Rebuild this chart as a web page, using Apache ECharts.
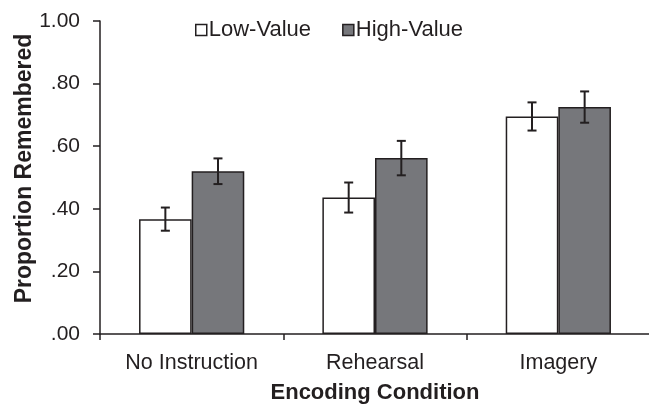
<!DOCTYPE html>
<html>
<head>
<meta charset="utf-8">
<script src="https://cdn.jsdelivr.net/npm/echarts@6/dist/echarts.min.js"></script>
<style>
html,body{margin:0;padding:0;background:#fff;}
#chart{width:649px;height:406px;}
</style>
</head>
<body>
<div id="chart"></div>
<script>
var categories = ['No Instruction', 'Rehearsal', 'Imagery'];
var lowValue = [0.367, 0.436, 0.695];
var lowErr = [0.037, 0.048, 0.045];
var highValue = [0.520, 0.562, 0.725];
var highErr = [0.041, 0.055, 0.050];
var yTicks = [0, 0.2, 0.4, 0.6, 0.8, 1.0];

var INK = '#231f20';
var GREY = '#76777b';
var FONT = 'Liberation Sans, Arial, sans-serif';
var BAR_FRAC = 0.287;

function errData(vals, errs) {
  return vals.map(function (v, i) { return [i, v - errs[i], v + errs[i]]; });
}

function errRender(side) {
  return function (params, api) {
    var idx = api.value(0);
    var lo = api.coord([idx, api.value(1)]);
    var hi = api.coord([idx, api.value(2)]);
    var bandW = api.size([1, 0])[0];
    var bw = bandW * BAR_FRAC;
    var x = lo[0] + side * bw / 2;
    var cap = 4.5;
    var st = { stroke: INK, lineWidth: 2 };
    return {
      type: 'group',
      children: [
        { type: 'line', shape: { x1: x, y1: lo[1], x2: x, y2: hi[1] }, style: st },
        { type: 'line', shape: { x1: x - cap, y1: lo[1], x2: x + cap, y2: lo[1] }, style: st },
        { type: 'line', shape: { x1: x - cap, y1: hi[1], x2: x + cap, y2: hi[1] }, style: st }
      ]
    };
  };
}

var chart = echarts.init(document.getElementById('chart'), null, { renderer: 'canvas' });
chart.setOption({
  animation: false,
  backgroundColor: '#fff',
  textStyle: { fontFamily: FONT },
  grid: { left: 100, width: 550, top: 21, height: 313, containLabel: false, outerBoundsMode: 'none' },
  legend: {
    left: 195,
    top: 19,
    padding: 0,
    itemWidth: 11,
    itemHeight: 11,
    itemGap: 31,
    data: [
      { name: 'Low-Value', icon: 'rect', itemStyle: { color: '#fff', borderColor: INK, borderWidth: 1.5 } },
      { name: 'High-Value', icon: 'rect', itemStyle: { color: GREY, borderColor: INK, borderWidth: 1.5 } }
    ],
    textStyle: { fontSize: 22, color: INK, fontFamily: FONT, padding: [0, 0, 0, -3] }
  },
  xAxis: {
    type: 'category',
    data: categories,
    name: 'Encoding Condition',
    nameLocation: 'middle',
    nameGap: 48,
    nameMoveOverlap: false,
    nameTextStyle: { fontSize: 22, fontWeight: 'bold', color: INK, fontFamily: FONT },
    axisLine: { lineStyle: { color: INK, width: 1.5 } },
    axisTick: { show: true, length: 6, lineStyle: { color: INK, width: 1.5 } },
    axisLabel: { fontSize: 21.5, color: INK, margin: 18, fontFamily: FONT }
  },
  yAxis: {
    type: 'value',
    min: 0,
    max: 1,
    interval: 0.2,
    name: 'Proportion Remembered',
    nameLocation: 'middle',
    nameGap: 64,
    nameMoveOverlap: false,
    nameTextStyle: { fontSize: 23, fontWeight: 'bold', color: INK, fontFamily: FONT, padding: [0, 0, 0, 18] },
    splitLine: { show: false },
    axisLine: { show: true, lineStyle: { color: INK, width: 1.5 } },
    axisTick: { show: true, length: 7, lineStyle: { color: INK, width: 1.5 } },
    axisLabel: {
      fontSize: 21, color: INK, margin: 20, fontFamily: FONT,
      formatter: function (v) {
        var s = v.toFixed(2);
        return v < 1 ? s.replace(/^0/, '') : s;
      }
    }
  },
  series: [
    {
      name: 'Low-Value', type: 'bar', data: lowValue, barWidth: (BAR_FRAC * 100) + '%', barGap: '0%',
      itemStyle: { color: '#fff', borderColor: INK, borderWidth: 1.5 }
    },
    {
      name: 'High-Value', type: 'bar', data: highValue, barWidth: (BAR_FRAC * 100) + '%', barGap: '0%',
      itemStyle: { color: GREY, borderColor: INK, borderWidth: 1.5 }
    },
    {
      name: 'lowErr', type: 'custom', renderItem: errRender(-1), data: errData(lowValue, lowErr),
      encode: { x: 0, y: [1, 2] }, z: 10
    },
    {
      name: 'highErr', type: 'custom', renderItem: errRender(1), data: errData(highValue, highErr),
      encode: { x: 0, y: [1, 2] }, z: 10
    }
  ]
});
</script>
</body>
</html>
